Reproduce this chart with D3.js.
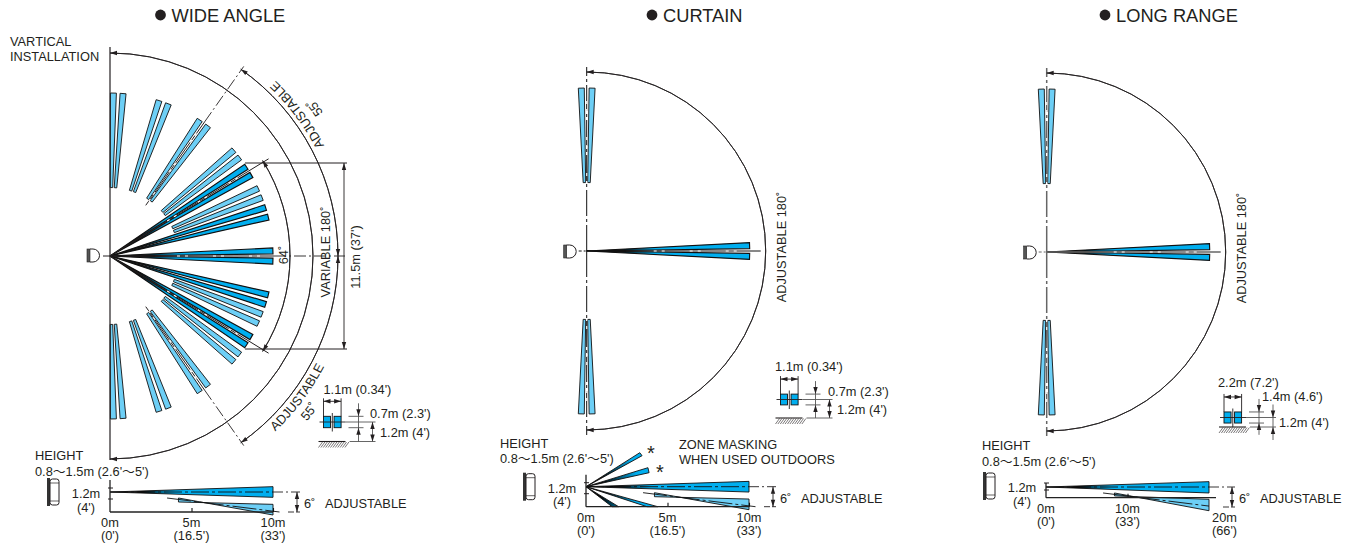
<!DOCTYPE html>
<html>
<head>
<meta charset="utf-8">
<title>Detection patterns</title>
<style>
html, body { margin: 0; padding: 0; background: #fff; }
svg { display: block; }
text { font-family: "Liberation Sans", "Noto Sans CJK JP", sans-serif; font-size: 12.8px; fill: #231f20; }
.ln { fill: none; stroke: #231f20; stroke-width: 0.9; }
</style>
<script src="https://cdn.jsdelivr.net/npm/d3@7"></script>
</head>
<body>
<script>
var width = 1351, height = 546;
var DARK = "#00aeef", LIGHT = "#6dcff6";

// plan view, beam centre angles in degrees (0 = straight ahead, + = up)
var wideDarkAngles = [1.8, -1.8, 13.8, -13.8, 17.3, -17.3, 29.8, -29.8, 33.2, -33.2];
var wideLightAngles = [21, -21, 24.5, -24.5, 37.2, -37.2, 40.5, -40.5, 53, -53, 56.6, -56.6, 69, -69, 72.5, -72.5, 85.4, -85.4, 88.8, -88.8];
var narrowDarkAngles = [1.9, -1.9];
var narrowLightAngles = [88.1, 91.9, -88.1, -91.9];
var wideCentreAngles = [0, 31.5, -31.5, 54.8, -54.8];
var narrowCentreAngles = [0, 90, -90];

// side view, [distance m, height m]
var sideMainStd = [[0, 1.2], [10, 1.52], [10, 0.88]];
var sideLowStd = [[4.2, 0.84], [4.2, 0.6], [10, 0.46], [10, -0.18]];
var sideLineStd = [[3.5, 0.84], [10.4, 0]];
var sideMainFar = [[0, 1.2], [20, 1.8], [20, 0.53]];
var sideLowFar = [[8.4, 0.53], [8.4, 0.2], [20, -0.18], [20, -1.46]];
var sideLineFar = [[7, 0.53], [20, -0.94]];
var maskedUp = [[[0, 1.2], [3.3, 3.24], [3.44, 3.06]], [[0, 1.2], [3.8, 2.34], [3.87, 2.04]]];
var maskedDown = [[[0, 1.2], [4.4, 0], [3.74, 0]], [[0, 1.2], [2, 0], [1.6, 0]]];

// labels
var titles = ["WIDE ANGLE", "CURTAIN", "LONG RANGE"];
var tickLabelsStd = [["0m", "(0')", 0], ["5m", "(16.5')", 5], ["10m", "(33')", 10]];
var tickLabelsFar = [["0m", "(0')", 0], ["10m", "(33')", 10], ["20m", "(66')", 21.9]];
var heightText = "0.8\u301C1.5m (2.6'\u301C5')";

var svg = d3.select("body").append("svg").attr("width", width).attr("height", height);
var defs = svg.append("defs");

// black at the sensor, fading into the beam colour
function beamGradient(id, r, a, b) {
  var grad = defs.append("radialGradient")
      .attr("id", id).attr("gradientUnits", "userSpaceOnUse")
      .attr("cx", 0).attr("cy", 0).attr("r", r);
  grad.append("stop").attr("offset", a).attr("stop-color", "#000");
  grad.append("stop").attr("offset", b).attr("stop-color", DARK);
}
beamGradient("beam", 163, 0.2, 0.4);
beamGradient("beamShort", 70, 0.25, 0.75);

function polar(r, deg) {
  var a = deg * Math.PI / 180;
  return [r * Math.cos(a), -r * Math.sin(a)];
}

function label(g, x, y, s, anchor, rot) {
  var t = g.append("text").attr("text-anchor", anchor || "start").text(s);
  t.attr("transform", "translate(" + x + "," + y + ")" + (rot ? " rotate(" + rot + ")" : ""));
  return t;
}

function line(g, x1, y1, x2, y2, w, dash, col) {
  return g.append("line").attr("class", "ln")
      .attr("x1", x1).attr("y1", y1).attr("x2", x2).attr("y2", y2)
      .style("stroke-width", w || 0.9)
      .style("stroke-dasharray", dash || null)
      .style("stroke", col || null);
}

function arrow(g, x, y, deg) {
  g.append("path").attr("d", "M0,0L-7,-2.2L-7,2.2Z").attr("fill", "#231f20")
      .attr("transform", "translate(" + x + "," + y + ") rotate(" + deg + ")");
}

// arc between two plan angles, arrow heads pointing at both ends
function dimArc(g, r, from, to) {
  g.append("path").attr("class", "ln")
      .attr("d", d3.arc()({innerRadius: r, outerRadius: r,
        startAngle: (90 - to) * Math.PI / 180, endAngle: (90 - from) * Math.PI / 180}));
  var p = polar(r, to), q = polar(r, from);
  arrow(g, p[0], p[1], -to - 90);
  arrow(g, q[0], q[1], -from + 90);
}

function fanBeam(g, r, a, near, far, fill) {
  var hw = 1.05;
  var pts = [polar(r(near), a - hw), polar(r(far), a - hw), polar(r(far), a + hw), polar(r(near), a + hw)];
  g.append("path").attr("d", d3.line()(pts) + "Z")
      .attr("fill", fill).attr("stroke", "#111").attr("stroke-width", near ? 0.9 : 1.15).attr("stroke-linejoin", "miter");
}

function centreLine(g, r, a, from, to, col, w) {
  var s = polar(from, a), e = polar(to, a);
  line(g, s[0], s[1], e[0], e[1], w || 1, null, col);
  var ws = polar(67, a), we = polar(155, a);
  line(g, ws[0], ws[1], we[0], we[1], 1.1, "3 5 3 25", "#fff");
}

function sensorTop(g, x, y) {
  g.append("rect").attr("x", x).attr("y", y).attr("width", 3).attr("height", 13)
      .attr("fill", "#555").attr("stroke", "#222").attr("stroke-width", 0.6);
  g.append("path").attr("class", "ln").style("stroke-width", 1)
      .attr("d", "M" + (x + 3) + "," + y + "h3a6.5,6.5 0 0 1 0,13h-3");
}

function sensorSide(g, x, y) {
  g.append("rect").attr("x", x).attr("y", y).attr("width", 3).attr("height", 28).attr("fill", "#333");
  g.append("rect").attr("class", "ln").attr("x", x + 3).attr("y", y + 1).attr("width", 9).attr("height", 26).attr("rx", 2.5).style("stroke-width", 1);
  line(g, x + 3, y + 5, x + 12, y + 5, 0.7);
  line(g, x + 3, y + 23, x + 12, y + 23, 0.7);
}

function ground(g, x, y, w) {
  line(g, x, y, x + w, y, 1.1);
  d3.range(0, w, 2.4).forEach(function(d) {
    line(g, x + d, y + 6, x + d + 4, y + 0.5, 0.6);
  });
}

// spot pattern at the far end with its dimensions; spread and size in metres
function spots(g, x, y, opt) {
  var sx = d3.scaleLinear().domain([0, opt.spread]).range([0, 17.6]);
  var sy = d3.scaleLinear().domain([0, 1.2]).range([opt.drop, 0]);
  var w = sx(opt.spread * 0.4), h = sy(0) - sy(opt.spotH);
  [0, opt.spread].forEach(function(m) {
    g.append("rect").attr("x", x + sx(m) + (m ? -w : 0)).attr("y", y + sy(1.2) - h / 2)
        .attr("width", w).attr("height", h)
        .attr("fill", DARK).attr("stroke", "#111").attr("stroke-width", 0.9);
  });
  var cy = y + sy(1.2), gy = y + sy(0), ext = opt.ext || 0;
  line(g, x - 4, cy, x + 22, cy, 0.9);
  line(g, x + 8.8, cy - 9, x + 8.8, cy + 9.5, 0.9);
  ground(g, x - 5, gy, 27);
  // width
  line(g, x, cy - h / 2, x, cy - h / 2 - 18, 0.9);
  line(g, x + 17.6, cy - h / 2, x + 17.6, cy - h / 2 - 18, 0.9);
  line(g, x, cy - h / 2 - 15, x + 17.6, cy - h / 2 - 15, 0.9);
  arrow(g, x + 17.6, cy - h / 2 - 15, 0);
  arrow(g, x, cy - h / 2 - 15, 180);
  // spot height and mounting height
  line(g, x + 25, cy - h / 2, x + 40, cy - h / 2, 0.9, null, "#555");
  line(g, x + 25, cy + h / 2, x + 40, cy + h / 2, 0.9, null, "#555");
  line(g, x + 22, cy, x + 52, cy, 0.9, null, "#555");
  line(g, x + 26, gy, x + 52, gy, 0.9, null, "#555");
  line(g, x + 35, cy - h / 2 - 13, x + 35, gy + ext * 0.6, 0.9, null, "#555");
  arrow(g, x + 35, cy - h / 2, 90);
  arrow(g, x + 35, cy + h / 2, -90);
  line(g, x + 49, cy - ext, x + 49, gy + ext, 0.9, null, "#555");
  if (ext) {
    arrow(g, x + 49, cy, 90);
    arrow(g, x + 49, gy, -90);
  } else {
    arrow(g, x + 49, cy, -90);
    arrow(g, x + 49, gy, 90);
  }
  label(g, x + opt.t1[0], y + opt.t1[1], opt.widthText);
  label(g, x + opt.t2[0], y + opt.t2[1], opt.spotText);
  label(g, x + opt.t3[0], y + opt.t3[1], "1.2m (4')");
}

// side elevation under each plan
function sideView(g, opt) {
  var x = d3.scaleLinear().domain([0, opt.range]).range([0, 163]);
  var y = d3.scaleLinear().domain([0, 1.2]).range([opt.drop, 0]);
  var path = d3.line().x(function(d) { return x(d[0]); }).y(function(d) { return y(d[1]); });
  var gp = g.append("g");

  (opt.maskedUp || []).concat(opt.maskedDown || []).forEach(function(b) {
    gp.append("path").attr("d", path(b) + "Z").attr("fill", "url(#beamShort)").attr("stroke", "#111").attr("stroke-width", 0.9);
  });
  gp.append("path").attr("d", path(opt.low) + "Z").attr("fill", LIGHT).attr("stroke", "#111").attr("stroke-width", 0.9);
  gp.append("path").attr("d", path(opt.main) + "Z").attr("fill", "url(#beam)").attr("stroke", "#111").attr("stroke-width", 0.9);

  // centre lines
  line(gp, x(0), y(1.2), x(opt.range), y(1.2), 0.9, "18 3 3 3", "#111");
  line(gp, x(opt.range), y(1.2), x(opt.range) + opt.dim, y(1.2), 0.9, "10 3 2 3");
  line(gp, x(opt.lowLine[0][0]), y(opt.lowLine[0][1]), x(opt.lowLine[1][0]), y(opt.lowLine[1][1]), 0.9, "24 3 3 3", "#111");

  // ground axis
  var axis = d3.axisBottom(x).tickValues(opt.ticks).tickSize(-4).tickFormat("");
  var ax = gp.append("g").attr("transform", "translate(0," + y(0) + ")").call(axis);
  ax.select(".domain").remove();
  ax.selectAll("line").attr("stroke", "#111").attr("stroke-width", 1.1);
  line(gp, x(0), y(0), x(opt.range) + opt.over, y(0), 1.3, null, "#222");
  line(gp, x(0), y(0), x(0), y(1.2) - opt.up, 1.3, null, "#222");
  line(gp, x(0) - 2, y(1.2) - 4, x(0) + 3, y(1.2) - 4, 1);
  line(gp, x(0) - 2, y(1.2) + opt.tick, x(0) + 3, y(1.2) + opt.tick, 1);

  // 6 degree adjustment
  var lowEnd = y(1.2) + 20;
  line(gp, x(opt.range) + opt.dim - 12, lowEnd, x(opt.range) + opt.dim, lowEnd, 0.9, "6 2");
  line(gp, x(opt.range) + opt.dim - 3, y(1.2), x(opt.range) + opt.dim - 3, lowEnd, 0.9);
  arrow(gp, x(opt.range) + opt.dim - 3, y(1.2), -90);
  arrow(gp, x(opt.range) + opt.dim - 3, lowEnd, 90);
  label(gp, x(opt.range) + opt.dim + 4, y(1.2) + 16, "6\u02DA");
  label(gp, x(opt.range) + opt.dim + 25, y(1.2) + 16, "ADJUSTABLE");

  opt.labels.forEach(function(d) {
    var yy = d[2] === opt.range || d[2] > opt.range ? opt.farY : opt.tickY;
    label(gp, x(d[2]), yy, d[0], "middle");
    label(gp, x(d[2]), yy + 13.4, d[1], "middle");
  });
  label(gp, -24, opt.h12Y, "1.2m", "middle");
  label(gp, -24, opt.h12Y + 13.5, "(4')", "middle");
  sensorSide(gp, opt.iconX, opt.iconY);
  label(gp, opt.hX, opt.hY, "HEIGHT");
  label(gp, opt.hX, opt.hY + 15.5, heightText);
}

// titles
var titleX = [171.5, 663, 1116], dotX = [160.5, 652, 1105];
titles.forEach(function(t, i) {
  svg.append("circle").attr("cx", dotX[i]).attr("cy", 15).attr("r", 5.4).attr("fill", "#231f20");
  label(svg, titleX[i], 21.5, t).style("font-size", "18.3px");
});

// ---- wide angle plan
var wide = svg.append("g").attr("transform", "translate(110,256)");
var rWide = d3.scaleLinear().domain([0, 10]).range([0, 163]);
wideDarkAngles.forEach(function(a) { fanBeam(wide, rWide, a, 0, 10, "url(#beam)"); });
wideLightAngles.forEach(function(a) { fanBeam(wide, rWide, a, 4.2, 10, LIGHT); });
wideCentreAngles.forEach(function(a) {
  var far = a === 0 ? 235 : Math.abs(a) > 50 ? 232 : 186;
  var near = Math.abs(a) > 50 ? 62 : 0;
  if (a === 0) {
    line(wide, -7, 0, 0, 0, 1);
    centreLine(wide, rWide, a, 0, 164);
    line(wide, 164, 0, far, 0, 0.9, "12 3 2 3");
  } else if (Math.abs(a) > 50) {
    centreLine(wide, rWide, a, near, 164);
    var s = polar(164, a), e = polar(far, a);
    line(wide, s[0], s[1], e[0], e[1], 0.9, "12 3 2 3");
  } else {
    centreLine(wide, rWide, a, 0, far);
  }
});
line(wide, 0, -209, 0, 204, 1.2);
dimArc(wide, 203, -90, 90);
dimArc(wide, 180, -32, 32);
dimArc(wide, 228, 0, 55);
dimArc(wide, 228, -55, 0);
sensorTop(wide, -23, -7);

// 11.5 m dimension
line(wide, 135, -93, 237, -93, 1);
line(wide, 135, 93, 237, 93, 1);
line(wide, 234, -93, 234, 93, 0.9);
arrow(wide, 234, -93, -90);
arrow(wide, 234, 93, 90);
label(wide, 250, 1, "11.5m (37')", "middle", -90);
label(wide, 220, -4, "VARIABLE 180\u02DA", "middle", -90);
label(wide, 178, -1, "64\u02DA", "middle", -90);

// curved labels, baseline on the outer side
function curvedText(g, id, r, from, to, s) {
  var p = polar(r, from), q = polar(r, to);
  defs.append("path").attr("id", id)
      .attr("d", "M" + p + "A" + r + "," + r + " 0 0 0 " + q);
  g.append("text").attr("text-anchor", "middle").append("textPath")
      .attr("href", "#" + id).attr("startOffset", "50%").text(s);
}
curvedText(wide, "upAdj", 241, 0, 74, "ADJUSTABLE");
curvedText(wide, "upDeg", 257, 0, 72, "55\u02DA");
curvedText(wide, "loAdj", 241, -74, 0, "ADJUSTABLE");
curvedText(wide, "loDeg", 257, -76, 0, "55\u02DA");
label(svg, 10, 46, "VARTICAL");
label(svg, 10, 61, "INSTALLATION");

spots(svg, 323.5, 422, {spread: 1.1, spotH: 0.7, drop: 19.5,
  widthText: "1.1m (0.34')", spotText: "0.7m (2.3')",
  t1: [0, -28], t2: [46.5, -4], t3: [56.5, 14.7]});

// ---- curtain and long range plans
function narrowPlan(ox, oy, range, lineCol, lineW) {
  var g = svg.append("g").attr("transform", "translate(" + ox + "," + oy + ")");
  var r = d3.scaleLinear().domain([0, range]).range([0, 163]);
  narrowDarkAngles.forEach(function(a) { fanBeam(g, r, a, 0, range, "url(#beam)"); });
  narrowLightAngles.forEach(function(a) { fanBeam(g, r, a, range * 0.42, range, LIGHT); });
  narrowCentreAngles.forEach(function(a) {
    if (a === 0) {
      line(g, -8, 0, -1, 0, 1, "3 2", lineCol);
      centreLine(g, r, a, 0, 174, lineCol, lineW);
    } else {
      var e = polar(184, a);
      line(g, 0, 0, e[0], e[1], lineW, "26 3 3 3", lineCol);
      var p = polar(67, a), q = polar(155, a);
      line(g, p[0], p[1], q[0], q[1], 1.1, "3 5 3 25", "#fff");
    }
  });
  dimArc(g, 179, -90, 90);
  sensorTop(g, -23, -6);
  label(g, 199, -4, "ADJUSTABLE 180\u02DA", "middle", -90);
}
narrowPlan(586.7, 251, 10, "#111", 1);
narrowPlan(1046.7, 252, 20, "#666", 1.5);

spots(svg, 780.5, 399.5, {spread: 1.1, spotH: 0.7, drop: 18.5,
  widthText: "1.1m (0.34')", spotText: "0.7m (2.3')",
  t1: [-5.5, -29], t2: [47.5, -3.5], t3: [56.5, 14.5]});
spots(svg, 1224, 417.5, {spread: 2.2, spotH: 1.4, drop: 9.5, ext: 13,
  widthText: "2.2m (7.2')", spotText: "1.4m (4.6')",
  t1: [-6, -31], t2: [38, -16.5], t3: [55, 9]});

// ---- side views
var sideWide = svg.append("g").attr("transform", "translate(110,492)");
sideView(sideWide, {range: 10, drop: 20, main: sideMainStd, low: sideLowStd, lowLine: sideLineStd,
  ticks: [5, 10], labels: tickLabelsStd, dim: 27, over: 0, up: 12, tick: 7,
  tickY: 35, farY: 35, h12Y: 6, iconX: -63, iconY: -14, hX: -75, hY: -32});

var sideCurtain = svg.append("g").attr("transform", "translate(586,486.7)");
sideView(sideCurtain, {range: 10, drop: 20, main: sideMainStd, low: sideLowStd, lowLine: sideLineStd,
  maskedUp: maskedUp, maskedDown: maskedDown,
  ticks: [5, 10], labels: tickLabelsStd, dim: 27, over: 0, up: 12, tick: 7,
  tickY: 35, farY: 35, h12Y: 6, iconX: -63, iconY: -14, hX: -86, hY: -39});
label(sideCurtain, 65, -27, "*", "middle").style("font-size", "20px");
label(sideCurtain, 74, -8, "*", "middle").style("font-size", "20px");
label(svg, 679, 449, "ZONE MASKING");
label(svg, 679, 464, "WHEN USED OUTDOORS");

var sideLong = svg.append("g").attr("transform", "translate(1046,487)");
sideView(sideLong, {range: 20, drop: 10.7, main: sideMainFar, low: sideLowFar, lowLine: sideLineFar,
  ticks: [10], labels: tickLabelsFar, dim: 26, over: 7, up: 4, tick: 3,
  tickY: 26, farY: 35, h12Y: 5, iconX: -63, iconY: -15, hX: -64, hY: -37});
</script>
</body>
</html>
